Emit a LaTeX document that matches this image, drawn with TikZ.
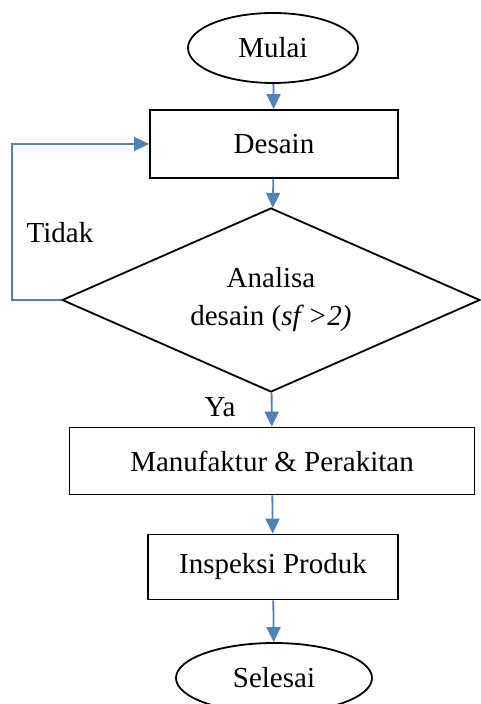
\documentclass[tikz,border=0pt]{standalone}
\usepackage{fontspec}
\setmainfont{Liberation Serif}
\usetikzlibrary{shapes.geometric,arrows.meta}
\definecolor{arrowblue}{RGB}{79,129,189}

\begin{document}
\begin{tikzpicture}[x=0.5pt,y=-0.5pt,
  every node/.style={font=\fontsize{14.5}{19}\selectfont},
  terminal/.style={draw,ellipse,line width=0.9pt,inner sep=0pt},
  process/.style={draw,rectangle,line width=0.9pt,inner sep=0pt},
  decision/.style={draw,diamond,aspect=2.27,line width=0.9pt,inner sep=0pt,align=center},
  link/.style={draw=arrowblue,line width=0.9pt,-{Triangle[width=7pt,length=7.5pt]}}]
  \useasboundingbox (0,0) rectangle (480,704);
  % nodes
  \node[terminal,minimum width=85pt,minimum height=35pt] (start) at (273,48) {Mulai};
  \node[process,minimum width=124pt,minimum height=34pt] (design) at (274,144) {Desain};
  \node[decision,minimum width=209pt,minimum height=92pt] (check) at (271,300)
    {Analisa\\desain (\textit{sf >2)}};
  \node[process,minimum width=202.5pt,minimum height=33.5pt] (build) at (272,461) {Manufaktur \& Perakitan};
  \node[process,minimum width=125pt,minimum height=32.5pt] (inspect) at (273,567) {Inspeksi Produk};
  \node[terminal,minimum width=98pt,minimum height=35pt] (finish) at (274,678) {Selesai};
  \coordinate (back) at (12,300);
  % labels
  \node (no) at (60,233) {Tidak};
  \node (yes) at (220,407) {Ya};
  % connectors
  \path[link] (start) -- (design);
  \path[link] (design) -- (check);
  \path[link] (check) -- (build);
  \path[link] (build) -- (inspect);
  \path[link] (inspect) -- (finish);
  \path[link] (check.west) -- (back) |- (design.west);
\end{tikzpicture}
\end{document}
